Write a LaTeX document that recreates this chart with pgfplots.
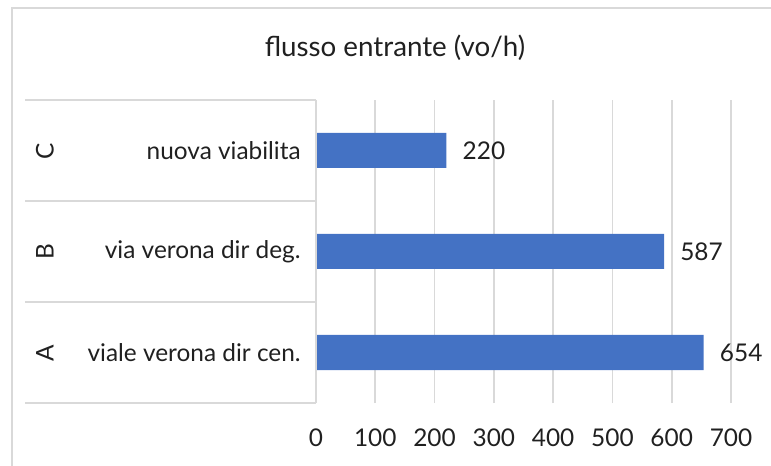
\documentclass[border=0pt]{standalone}
\usepackage{pgfplots}
\pgfplotsset{compat=1.18}
\usepackage{fontspec}
\setmainfont{Lato}
\definecolor{barblue}{HTML}{4472C4}
\definecolor{gridgray}{HTML}{D9D9D9}
\definecolor{txt}{HTML}{202020}
\begin{document}
\begin{tikzpicture}
\useasboundingbox (0,0) rectangle ({771*0.75pt},{-466*0.75pt});
% outer chart border (cropped at right and bottom)
\draw[gridgray, line width=1.3pt] ({12*0.75pt},{-470*0.75pt}) -- ({12*0.75pt},{-8*0.75pt}) -- ({775*0.75pt},{-8*0.75pt});
% title
\node[txt, font=\fontsize{20.8}{24}\selectfont] at ({395*0.75pt},{-48*0.75pt}) {flusso entrante (vo/h)};
\begin{axis}[
  at={({316*0.75pt},{-403*0.75pt})}, anchor=south west,
  scale only axis, width={415*0.75pt}, height={303*0.75pt},
  xbar, bar width={35*0.75pt},
  xmin=0, xmax=700, ymin=-0.5, ymax=2.5,
  xtick={0,100,...,700},
  ytick={0,1,2},
  yticklabels={viale verona dir cen., via verona dir deg., nuova viabilita},
  /pgf/number format/assume math mode=true,
  xmajorgrids, ymajorgrids=false,
  grid style={gridgray, line width=1.3pt},
  axis line style={draw=none},
  tick style={draw=none},
  xticklabel style={txt, font=\fontsize{18.3}{20}\selectfont, anchor=base, inner sep=0pt, yshift={-32.5pt}},
  yticklabel style={txt, font=\fontsize{18.3}{20}\selectfont, anchor=east, inner sep=0pt, xshift={-7pt}},
  nodes near coords,
  nodes near coords style={txt, font=\fontsize{18.3}{20}\selectfont, anchor=west, inner sep=0pt, xshift=12pt},
  clip=false,
]
\addplot[fill=barblue, draw=none] coordinates {(654,0) (587,1) (220,2)};
\end{axis}
% axis line and category separators
\draw[gridgray, line width=1.3pt] ({316*0.75pt},{-100*0.75pt}) -- ({316*0.75pt},{-403*0.75pt});
\foreach \yy in {100,201,302,403}
  \draw[gridgray, line width=1.3pt] ({25*0.75pt},{-\yy*0.75pt}) -- ({316*0.75pt},{-\yy*0.75pt});
% outer level labels
\foreach \lab/\yy in {A/353,B/252,C/151}
  \node[txt, rotate=90, font=\fontsize{18.3}{20}\selectfont] at ({45*0.75pt},{-\yy*0.75pt}) {\lab};
\end{tikzpicture}
\end{document}
